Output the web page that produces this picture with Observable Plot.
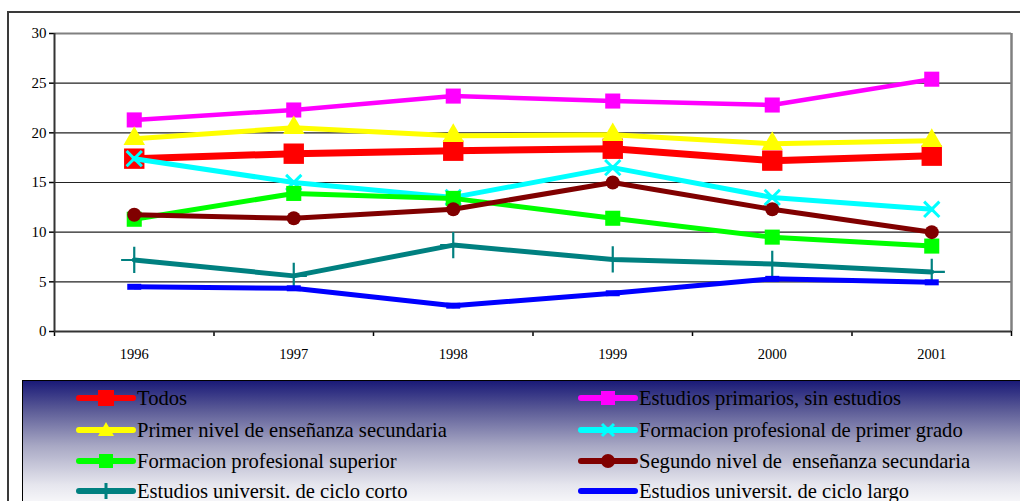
<!DOCTYPE html>
<html>
<head>
<meta charset="utf-8">
<script src="https://cdn.jsdelivr.net/npm/d3@7"></script>
<script src="https://cdn.jsdelivr.net/npm/@observablehq/plot@0.6"></script>
<style>
  html, body { margin: 0; padding: 0; background: #fff; width: 1020px; height: 501px; overflow: hidden; }
  #frame { position: absolute; left: 7px; top: 11px; width: 1020px; height: 500px; border-left: 2px solid #3a3a3a; border-top: 2px solid #3a3a3a; }
  #chart { position: absolute; left: 0; top: 0; }
  #chart svg text { font-family: "Liberation Serif", serif; }
  #legend { position: absolute; left: 22px; top: 380px; width: 1010px; height: 130px; border-top: 1px solid #000; border-left: 1px solid #000;
            background: linear-gradient(to bottom, #1a1a78 0%, #5a5a96 22%, #a8a8c4 50%, #e6e6ee 80%, #ffffff 100%); }
  .item { position: absolute; height: 30px; display: flex; align-items: center; font-family: "Liberation Serif", "DejaVu Serif", serif; font-size: 20.6px; color: #000; white-space: pre; }
</style>
</head>
<body>
<div id="frame"></div>
<div id="chart"></div>
<div id="legend"></div>
<script>
const years = [1996, 1997, 1998, 1999, 2000, 2001];
const yTicks = [0, 5, 10, 15, 20, 25, 30];

const seriesNames = [
  "Todos",
  "Estudios primarios, sin estudios",
  "Primer nivel de enseñanza secundaria",
  "Formacion profesional de primer grado",
  "Formacion profesional superior",
  "Segundo nivel de  enseñanza secundaria",
  "Estudios universit. de ciclo corto",
  "Estudios universit. de ciclo largo"
];
const todos        = [17.4, 17.9, 18.2, 18.4, 17.2, 17.7];
const primarios    = [21.3, 22.3, 23.7, 23.2, 22.8, 25.4];
const primerNivel  = [19.4, 20.5, 19.7, 19.8, 18.9, 19.2];
const fpPrimer     = [17.4, 15.0, 13.5, 16.5, 13.5, 12.3];
const fpSuperior   = [11.3, 13.9, 13.4, 11.4, 9.5, 8.6];
const segundoNivel = [11.75, 11.4, 12.3, 15.0, 12.3, 10.0];
const univCorto    = [7.2, 5.6, 8.7, 7.25, 6.8, 6.0];
const univLargo    = [4.5, 4.35, 2.6, 3.85, 5.3, 4.95];
const seriesValues = [todos, primarios, primerNivel, fpPrimer, fpSuperior, segundoNivel, univCorto, univLargo];

// styles
const colors = ["#ff0000", "#ff00ff", "#ffff00", "#00ffff", "#00ff00", "#800000", "#008080", "#0000ff"];
const symbols = ["square", "square", "triangle", "times", "square", "circle", "plus", "dash"];
const lineWidths = [7, 4.5, 5, 5, 5, 5, 5, 5];
const markerR = [11.5, 8.5, 8, 7, 8.5, 7, 8.5, 6];

const dashSymbol = {
  draw(context, size) {
    const w = 7, h = 3;
    context.moveTo(-w, -h); context.lineTo(w, -h); context.lineTo(w, h); context.lineTo(-w, h); context.closePath();
  }
};

const bounds = [1995.5, 1996.5, 1997.5, 1998.5, 1999.5, 2000.5, 2001.5];

const marks = [
  Plot.ruleY([5, 10, 15, 20, 25], {stroke: "#222", strokeWidth: 1.2}),
  Plot.ruleY([30], {stroke: "#808080", strokeWidth: 2}),
  Plot.ruleX([2001.5], {y1: 0, y2: 30, stroke: "#808080", strokeWidth: 2.5}),
  Plot.axisY({ticks: yTicks, tickSize: 5, tickPadding: 3, tickFormat: d => String(d), label: null,
              fontSize: 15, fill: "#000", stroke: "#000", strokeWidth: 1.5}),
  Plot.axisX({ticks: bounds, tickSize: 5, tickFormat: () => "", label: null, stroke: "#000", strokeWidth: 1.5}),
  Plot.axisX({ticks: years, tickSize: 0, tickPadding: 17, tickFormat: d => String(d), label: null, fontSize: 14.5, fill: "#000"}),
  Plot.ruleY([0], {stroke: "#333", strokeWidth: 2}),
  Plot.ruleX([1995.5], {y1: 0, y2: 30, stroke: "#333", strokeWidth: 2})
];

seriesValues.forEach((vals, i) => {
  const data = years.map((yr, j) => ({year: yr, value: vals[j]}));
  marks.push(Plot.line(data, {x: "year", y: "value", stroke: colors[i], strokeWidth: lineWidths[i], strokeLinejoin: "round"}));
  const sym = symbols[i] === "dash" ? dashSymbol : symbols[i];
  const stroked = symbols[i] === "times" || symbols[i] === "plus";
  marks.push(Plot.dot(data, stroked
    ? {x: "year", y: "value", symbol: () => sym, r: markerR[i], stroke: colors[i], strokeWidth: symbols[i] === "times" ? 3 : 2.2, fill: "none"}
    : {x: "year", y: "value", symbol: () => sym, r: markerR[i], fill: colors[i], stroke: "none"}));
});

const chart = Plot.plot({
  width: 1020,
  height: 381,
  marginLeft: 54,
  marginRight: 9,
  marginTop: 33,
  marginBottom: 50,
  style: {background: "transparent", overflow: "visible", fontSize: "15px", fontFamily: "Liberation Serif, serif"},
  x: {type: "linear", domain: [1995.5, 2001.5], axis: null},
  y: {domain: [0, 30], axis: null},
  symbol: {type: "identity"},
  marks
});
document.getElementById("chart").appendChild(chart);

// legend
const legend = document.getElementById("legend");
const order = [[0, 0], [1, 1], [2, 0], [3, 1], [4, 0], [5, 1], [6, 0], [7, 1]];
const rowY = [2, 34, 65, 95];
order.forEach(([i, col], k) => {
  const row = Math.floor(k / 2);
  const div = document.createElement("div");
  div.className = "item";
  div.style.left = (col === 0 ? 52 : 554) + "px";
  div.style.top = rowY[row] + "px";
  const w = 62, h = 30, cx = 31, cy = 15;
  const svg = d3.create("svg").attr("width", w).attr("height", h);
  svg.append("line").attr("x1", 4).attr("x2", w - 4).attr("y1", cy).attr("y2", cy)
     .attr("stroke", colors[i]).attr("stroke-width", 6).attr("stroke-linecap", "round");
  const s = symbols[i];
  if (s === "square") {
    const side = i === 0 ? 16 : 14;
    svg.append("rect").attr("x", cx - side / 2).attr("y", cy - side / 2).attr("width", side).attr("height", side).attr("fill", colors[i]);
  } else if (s === "triangle") {
    svg.append("path").attr("d", `M${cx},${cy - 8}L${cx + 8},${cy + 6}L${cx - 8},${cy + 6}Z`).attr("fill", colors[i]);
  } else if (s === "circle") {
    svg.append("circle").attr("cx", cx).attr("cy", cy).attr("r", 7).attr("fill", colors[i]);
  } else if (s === "times") {
    svg.append("path").attr("d", `M${cx - 6},${cy - 6}L${cx + 6},${cy + 6}M${cx + 6},${cy - 6}L${cx - 6},${cy + 6}`).attr("stroke", colors[i]).attr("stroke-width", 3);
  } else if (s === "plus") {
    svg.append("path").attr("d", `M${cx},${cy - 8}L${cx},${cy + 8}`).attr("stroke", colors[i]).attr("stroke-width", 3);
  }
  div.appendChild(svg.node());
  const span = document.createElement("span");
  span.textContent = seriesNames[i];
  div.appendChild(span);
  legend.appendChild(div);
});
</script>
</body>
</html>
